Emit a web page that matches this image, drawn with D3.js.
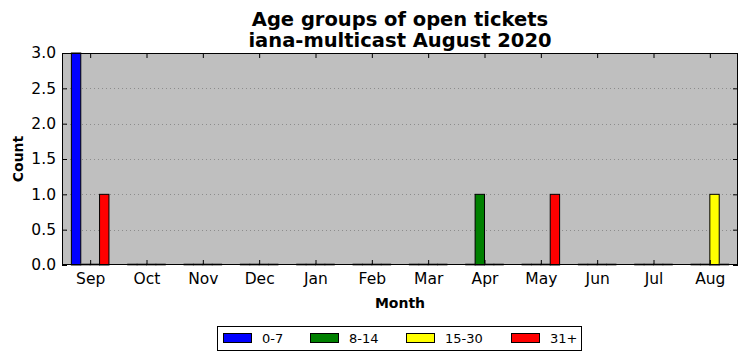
<!DOCTYPE html>
<html><head><meta charset="utf-8">
<script src="https://cdn.jsdelivr.net/npm/d3@7"></script>
<style>body{margin:0;background:#fff}svg{display:block;font-family:"DejaVu Sans",sans-serif}</style>
</head><body><svg id="c" width="747" height="361"></svg>
<script>
const months = ["Sep","Oct","Nov","Dec","Jan","Feb","Mar","Apr","May","Jun","Jul","Aug"];
const seriesNames = ["0-7","8-14","15-30","31+"];
const seriesColors = ["#0000ff","#008000","#ffff00","#ff0000"];
const s0_7   = [3,0,0,0,0,0,0,0,0,0,0,0];
const s8_14  = [0,0,0,0,0,0,0,1,0,0,0,0];
const s15_30 = [0,0,0,0,0,0,0,0,0,0,0,1];
const s31p   = [1,0,0,0,0,0,0,0,1,0,0,0];
const seriesValues = [s0_7, s8_14, s15_30, s31p];
const yTicks = [0,0.5,1.0,1.5,2.0,2.5,3.0];

const svg = d3.select("#c");
const L=62, R=738, T=53, B=265;
const x = d3.scaleLinear().domain([-0.5, 11.5]).range([L, R]);
const y = d3.scaleLinear().domain([0, 3]).range([B, T]);
const w = 1/6;

svg.append("rect").attr("x",L).attr("y",T).attr("width",R-L).attr("height",B-T).attr("fill","#bfbfbf");

// grid
svg.append("g").selectAll("line").data(yTicks.filter(d=>d>0&&d<3)).join("line")
  .attr("x1",L).attr("x2",R).attr("y1",d=>Math.round(y(d))+0.5).attr("y2",d=>Math.round(y(d))+0.5)
  .attr("stroke","#8c8c8c").attr("stroke-width",1).attr("stroke-dasharray","1,3");

// bars
seriesValues.forEach((vals,si)=>{
  svg.append("g").selectAll("rect").data(vals).join("rect")
    .attr("x",(d,i)=>x(i-2*w+si*w))
    .attr("width",x(w)-x(0))
    .attr("y",d=>y(d) - (d===0?1:0))
    .attr("height",d=>y(0)-y(d) + (d===0?1:0))
    .attr("fill",d=>d===0?"none":seriesColors[si])
    .attr("stroke",d=>d===0?"#555":"#000").attr("stroke-width",1);
});

// axes
const gx = svg.append("g").attr("transform",`translate(0,${B})`)
  .call(d3.axisBottom(x).tickValues(d3.range(12)).tickFormat(i=>months[i]).tickSizeInner(-5).tickSizeOuter(0).tickPadding(8));
const gxt = svg.append("g").attr("transform",`translate(0,${T})`)
  .call(d3.axisTop(x).tickValues(d3.range(12)).tickFormat("").tickSizeInner(-5).tickSizeOuter(0));
const gy = svg.append("g").attr("transform",`translate(${L},0)`)
  .call(d3.axisLeft(y).tickValues(yTicks).tickFormat(d3.format(".1f")).tickSizeInner(-5).tickSizeOuter(0).tickPadding(6));
const gyr = svg.append("g").attr("transform",`translate(${R},0)`)
  .call(d3.axisRight(y).tickValues(yTicks).tickFormat("").tickSizeInner(-5).tickSizeOuter(0));
[gx,gxt,gy,gyr].forEach(g=>{
  g.select(".domain").remove();
  g.selectAll("line").attr("stroke","#000");
  g.selectAll("text").attr("fill","#000").style("font-size","15.5px").style("font-family","DejaVu Sans");
});
gx.selectAll("text").attr("dy","0.71em");

svg.append("rect").attr("x",L+0.5).attr("y",T+0.5).attr("width",R-L-1).attr("height",B-T-1)
  .attr("fill","none").attr("stroke","#000").attr("stroke-width",1);

// titles
svg.append("text").attr("x",400).attr("y",26).attr("text-anchor","middle").style("font-size","19.5px").style("font-weight","bold").text("Age groups of open tickets");
svg.append("text").attr("x",400).attr("y",47).attr("text-anchor","middle").style("font-size","19.5px").style("font-weight","bold").text("iana-multicast August 2020");
svg.append("text").attr("x",400).attr("y",308).attr("text-anchor","middle").style("font-size","14px").style("font-weight","bold").text("Month");
svg.append("text").attr("transform","translate(23,159) rotate(-90)").attr("text-anchor","middle").style("font-size","14px").style("font-weight","bold").text("Count");

// legend
const lg = svg.append("g");
lg.append("rect").attr("x",217.5).attr("y",326.5).attr("width",364).attr("height",24).attr("fill","#fff").attr("stroke","#000");
const lx = [223, 310, 406, 511];
seriesNames.forEach((n,i)=>{
  lg.append("rect").attr("x",lx[i]+0.5).attr("y",333.5).attr("width",28).attr("height",9).attr("fill",seriesColors[i]).attr("stroke","#000");
  lg.append("text").attr("x",lx[i]+39).attr("y",343).style("font-size","13px").text(n);
});
</script></body></html>
